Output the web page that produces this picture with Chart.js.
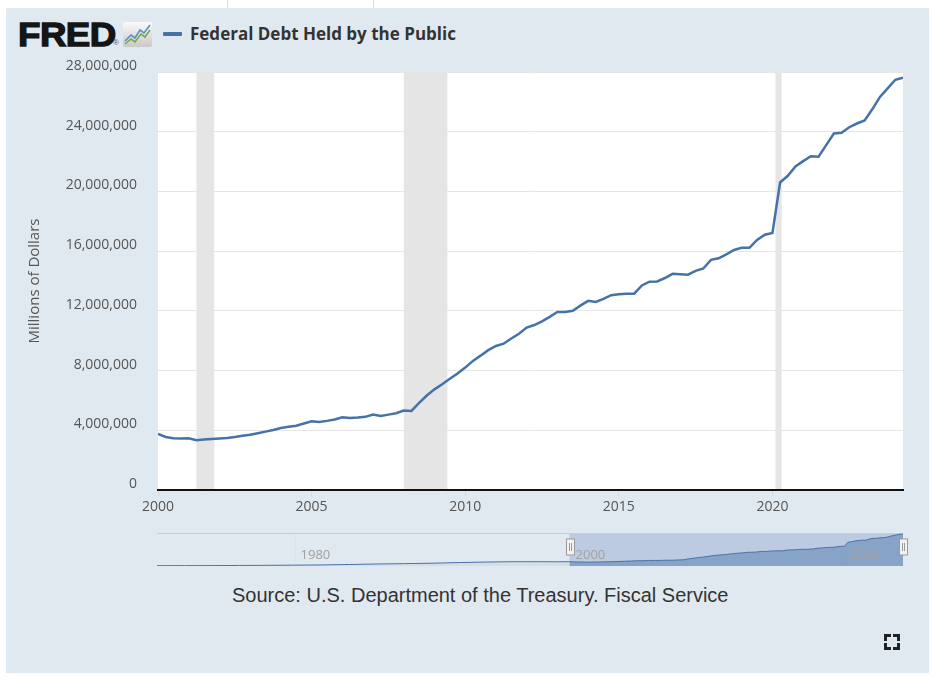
<!DOCTYPE html>
<html>
<head>
<meta charset="utf-8">
<title>Federal Debt Held by the Public</title>
<script src="https://cdn.jsdelivr.net/npm/chart.js@4.4.1/dist/chart.umd.min.js"></script>
<style>
  html, body { margin: 0; padding: 0; background: #fff; }
  body { width: 936px; height: 683px; position: relative; overflow: hidden; font-family: "Open Sans", sans-serif; }
  #panel { position: absolute; left: 6px; top: 8px; width: 923px; height: 665px; background: #e1e9f0; }
  .tab { position: absolute; top: 0; width: 1px; height: 8px; background: #dcdcdc; }
  #logo { position: absolute; left: 18px; top: 14px; font-family: "Liberation Sans", Arial, sans-serif; font-weight: bold;
          font-size: 34px; letter-spacing: -0.5px; color: #151515; -webkit-text-stroke: 1.3px #151515; line-height: 40px;
          transform: scaleX(1.08); transform-origin: left top; white-space: nowrap; }
  #reg { position: absolute; left: 113px; top: 38px; font-family: "Liberation Sans", Arial, sans-serif; font-size: 8px; color: #555; }
  #icon { position: absolute; left: 123px; top: 22px; }
  #swatch { position: absolute; left: 163px; top: 32px; width: 19px; height: 4px; background: #4572a7; border-radius: 1px; }
  #legend { position: absolute; left: 190px; top: 23px; font-weight: bold; font-size: 17px; color: #333; line-height: 22px; white-space: nowrap; }
  #main { position: absolute; left: 0; top: 0; }
  #nav { position: absolute; left: 150px; top: 530px; }
  #source { position: absolute; left: 232px; top: 582px; font-family: "Liberation Sans", Arial, sans-serif;
            font-size: 20px; color: #333; line-height: 26px; white-space: nowrap; }
  .corner { position: absolute; width: 4px; height: 4px; border: 0 solid #222; }
</style>
</head>
<body>
<div class="tab" style="left:227px"></div>
<div class="tab" style="left:373px"></div>
<div id="panel"></div>
<div id="logo">FRED</div>
<div id="reg">®</div>
<svg id="icon" width="29" height="25" viewBox="0 0 29 25">
  <defs>
    <linearGradient id="g" x1="0" y1="0" x2="0" y2="1">
      <stop offset="0" stop-color="#fafafa"/>
      <stop offset="1" stop-color="#c9c9c9"/>
    </linearGradient>
  </defs>
  <rect x="0" y="0" width="29" height="25" rx="2" fill="url(#g)"/>
  <polyline points="2,19 8,13 12,16 17,8 21,11 27,3" fill="none" stroke="#5b8fc9" stroke-width="1.6"/>
  <polyline points="2,22 8,17 12,20 18,12 22,15 27,8" fill="none" stroke="#79a843" stroke-width="1.6"/>
</svg>
<div id="swatch"></div>
<div id="legend">Federal Debt Held by the Public</div>
<canvas id="main" width="936" height="525"></canvas>
<canvas id="nav" width="765" height="40"></canvas>
<div id="source">Source: U.S. Department of the Treasury. Fiscal Service</div>
<div class="corner" style="left:884px;top:634px;border-left-width:3px;border-top-width:3px"></div>
<div class="corner" style="left:893px;top:634px;border-right-width:3px;border-top-width:3px"></div>
<div class="corner" style="left:884px;top:643px;border-left-width:3px;border-bottom-width:3px"></div>
<div class="corner" style="left:893px;top:643px;border-right-width:3px;border-bottom-width:3px"></div>

<script>
// quarterly, millions of dollars, 2000 Q1 .. 2024 Q2
const startYear = 2000;
const debt = [
  3750000, 3550000, 3470000, 3450000, 3470000, 3330000, 3380000, 3420000,
  3450000, 3490000, 3550000, 3640000, 3700000, 3800000, 3910000, 4020000,
  4150000, 4230000, 4310000, 4450000, 4600000, 4560000, 4630000, 4720000,
  4870000, 4820000, 4850000, 4900000, 5060000, 4960000, 5050000, 5140000,
  5320000, 5300000, 5830000, 6330000, 6740000, 7080000, 7450000, 7810000,
  8200000, 8650000, 9000000, 9370000, 9650000, 9800000, 10150000, 10470000,
  10880000, 11050000, 11300000, 11600000, 11920000, 11920000, 12000000, 12350000,
  12670000, 12600000, 12800000, 13050000, 13120000, 13140000, 13150000, 13700000,
  13950000, 13970000, 14200000, 14480000, 14450000, 14420000, 14680000, 14840000,
  15420000, 15520000, 15780000, 16080000, 16220000, 16220000, 16750000, 17100000,
  17220000, 20600000, 21050000, 21680000, 22030000, 22360000, 22330000, 23100000,
  23880000, 23930000, 24300000, 24550000, 24750000, 25500000, 26330000, 26900000,
  27480000, 27620000
];
const quarterYears = debt.map((_, i) => startYear + i / 4);

const recessions = [[2001.25, 2001.83], [2008.0, 2009.42], [2020.1, 2020.3]];
const xTickYears = [2000, 2005, 2010, 2015, 2020];
const yTicks = [0, 4000000, 8000000, 12000000, 16000000, 20000000, 24000000, 28000000];

// navigator: earlier history (rough), then the same quarterly series
const navHistoryYears = [1970, 1972, 1974, 1976, 1978, 1980, 1982, 1984, 1986, 1988, 1990, 1992, 1994, 1996, 1998, 1999];
const navHistoryDebt = [290000, 320000, 345000, 480000, 590000, 720000, 920000, 1310000, 1740000, 2050000, 2410000, 2990000, 3430000, 3730000, 3720000, 3640000];
const navLabelYears = [1980, 2000, 2020];
const navStart = 1970;
const navSelStart = 2000;

const lineColor = '#4572a7';
Chart.defaults.font.family = '"Open Sans", sans-serif';
Chart.defaults.color = '#555';

const plotBackground = {
  id: 'plotBackground',
  beforeDraw(chart) {
    const { ctx, chartArea: a } = chart;
    ctx.save();
    ctx.fillStyle = '#fff';
    ctx.fillRect(a.left, a.top, a.width, a.height);
    ctx.restore();
  }
};

const recessionBars = {
  id: 'recessionBars',
  beforeDatasetsDraw(chart) {
    const { ctx, chartArea: a, scales: { x } } = chart;
    ctx.save();
    ctx.fillStyle = '#e5e5e5';
    recessions.forEach(([s, e]) => {
      const x0 = x.getPixelForValue(s);
      const x1 = x.getPixelForValue(e);
      ctx.fillRect(x0, a.top, x1 - x0, a.height - 1);
    });
    ctx.restore();
  }
};

new Chart(document.getElementById('main'), {
  type: 'line',
  data: {
    datasets: [{
      label: 'Federal Debt Held by the Public',
      data: quarterYears.map((x, i) => ({ x, y: debt[i] })),
      borderColor: lineColor,
      borderWidth: 2.5,
      pointRadius: 0,
      tension: 0,
      fill: false
    }]
  },
  options: {
    responsive: false,
    animation: false,
    layout: { padding: { left: 0, right: 33, top: 72, bottom: 0 } },
    plugins: { legend: { display: false }, tooltip: { enabled: false } },
    scales: {
      x: {
        type: 'linear',
        min: 2000,
        max: 2024.25,
        afterBuildTicks: s => { s.ticks = xTickYears.map(v => ({ value: v })); },
        afterFit: s => { s.height = 35; },
        grid: { drawOnChartArea: false, drawTicks: true, tickLength: 6, color: '#d8d8d8' },
        border: { display: true, color: '#111', width: 2 },
        ticks: { padding: 3, font: { size: 14 }, color: '#555', callback: v => String(v), maxRotation: 0 }
      },
      y: {
        min: 0,
        max: 28000000,
        afterBuildTicks: s => { s.ticks = yTicks.map(v => ({ value: v })); },
        afterFit: s => { s.width = 158; },
        grid: { color: '#e6e6e6', drawTicks: false },
        border: { display: false },
        ticks: { padding: 21, labelOffset: -6, font: { size: 14 }, color: '#555',
                 callback: v => v.toLocaleString('en-US') },
        title: { display: true, text: 'Millions of Dollars', color: '#555', font: { size: 15 },
                 padding: { top: 26, bottom: 0 } }
      }
    }
  },
  plugins: [plotBackground, recessionBars]
});

const navDecor = {
  id: 'navDecor',
  beforeDatasetsDraw(chart) {
    const { ctx, chartArea: a, scales: { x } } = chart;
    ctx.save();
    ctx.strokeStyle = '#e2e2e2';
    ctx.lineWidth = 1;
    navLabelYears.forEach(yr => {
      const px = Math.round(x.getPixelForValue(yr)) + 0.5;
      ctx.beginPath(); ctx.moveTo(px, a.top); ctx.lineTo(px, a.bottom); ctx.stroke();
    });
    const sx = x.getPixelForValue(navSelStart);
    ctx.fillStyle = 'rgba(102,133,194,0.3)';
    ctx.fillRect(sx, a.top, a.right - sx, a.bottom - a.top);
    ctx.strokeStyle = '#cccccc';
    ctx.beginPath(); ctx.moveTo(a.left, a.top + 0.5); ctx.lineTo(a.right, a.top + 0.5); ctx.stroke();
    ctx.restore();
  },
  afterDatasetsDraw(chart) {
    const { ctx, chartArea: a, scales: { x } } = chart;
    ctx.save();
    ctx.font = '13px "Open Sans", sans-serif';
    ctx.fillStyle = '#a0a0a0';
    ctx.textBaseline = 'middle';
    navLabelYears.forEach(yr => {
      ctx.fillText(String(yr), x.getPixelForValue(yr) + 6, a.top + 22);
    });
    [x.getPixelForValue(navSelStart), a.right].forEach(hx => {
      const cx = Math.round(hx) + 0.5;
      const top = a.top + 6;
      ctx.fillStyle = '#f2f2f2';
      ctx.strokeStyle = '#999';
      ctx.lineWidth = 1;
      ctx.fillRect(cx - 4, top, 8, 16);
      ctx.strokeRect(cx - 4, top, 8, 16);
      ctx.beginPath();
      ctx.moveTo(cx - 1, top + 4); ctx.lineTo(cx - 1, top + 12);
      ctx.moveTo(cx + 1, top + 4); ctx.lineTo(cx + 1, top + 12);
      ctx.stroke();
    });
    ctx.restore();
  }
};

const historyPoints = navHistoryYears.map((x, i) => ({ x, y: navHistoryDebt[i] }));
historyPoints.push({ x: quarterYears[0], y: debt[0] });

new Chart(document.getElementById('nav'), {
  type: 'line',
  data: {
    datasets: [
      {
        data: historyPoints,
        borderColor: lineColor,
        borderWidth: 1,
        backgroundColor: 'rgba(69,114,167,0.08)',
        fill: 'origin',
        pointRadius: 0,
        tension: 0
      },
      {
        data: quarterYears.map((x, i) => ({ x, y: debt[i] })),
        borderColor: lineColor,
        borderWidth: 1,
        backgroundColor: 'rgba(69,114,167,0.45)',
        fill: 'origin',
        pointRadius: 0,
        tension: 0
      }
    ]
  },
  options: {
    responsive: false,
    animation: false,
    layout: { padding: { left: 7, right: 12, top: 3, bottom: 4 } },
    plugins: { legend: { display: false }, tooltip: { enabled: false } },
    scales: {
      x: { type: 'linear', display: false, min: navStart, max: 2024.25 },
      y: { display: false, min: 0, max: 28600000 }
    }
  },
  plugins: [navDecor]
});
</script>
</body>
</html>
